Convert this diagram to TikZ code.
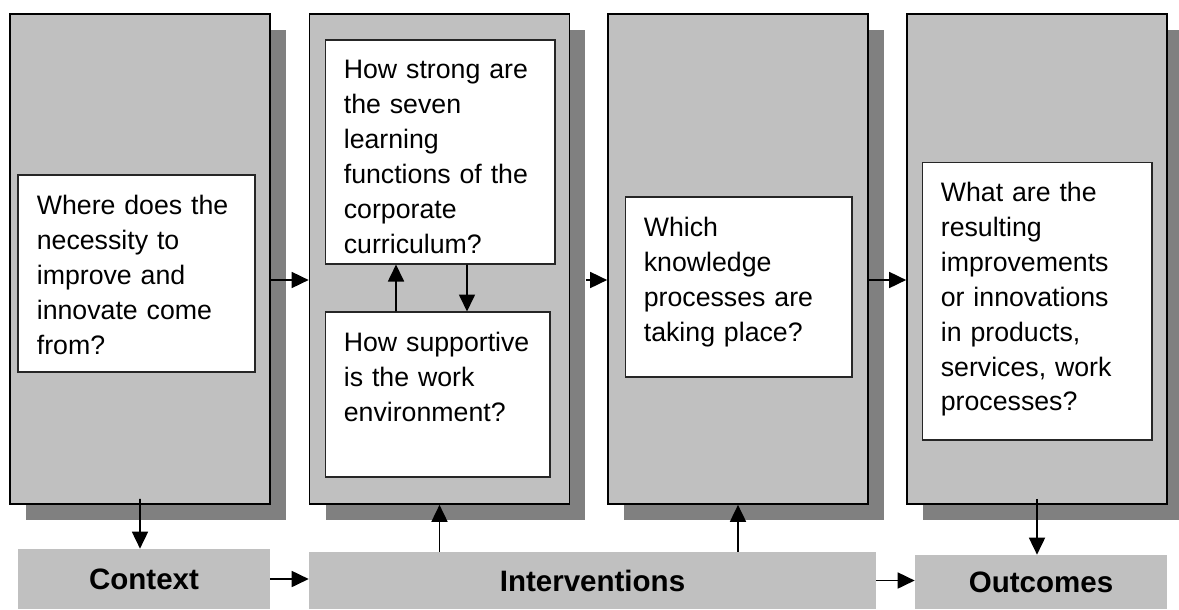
\documentclass[tikz,border=0pt]{standalone}
\usepackage{fontspec}
\setmainfont{Liberation Sans}
\usetikzlibrary{arrows.meta}
\usetikzlibrary{shadows}

\definecolor{boxgray}{RGB}{192,192,192}
\definecolor{shadegray}{RGB}{128,128,128}
\newcommand{\qfont}{\fontsize{15.2pt}{19.9pt}\selectfont}
\newcommand{\stagefont}{\fontsize{16.8pt}{20pt}\selectfont\bfseries}

\begin{document}
\begin{tikzpicture}[x=0.02cm, y=-0.02cm,
		column/.style = {draw=black, line width=1pt, fill=boxgray, inner sep=0pt,
			minimum width=5.2cm, minimum height=9.8cm,
			drop shadow={shadow xshift=0.32cm, shadow yshift=-0.32cm, fill=shadegray, opacity=1}},
		qbox/.style = {draw=black!85, line width=0.6pt, fill=white, inner sep=0pt},
		qtext/.style = {anchor=north west, inner sep=0pt, text width=4.4cm, align=left, font=\qfont},
		stage/.style = {fill=boxgray, inner sep=0pt, font=\stagefont}]
				\useasboundingbox (0,0) rectangle (1179,609);
				% the four columns
				\node[column] (c1) at (140,259) {};
				\node[column] (c2) at (439.5,259) {};
				\node[column] (c3) at (738,259) {};
				\node[column] (c4) at (1037,259) {};
				% questions
				\node[qbox, minimum width=4.74cm, minimum height=3.94cm] (q1) at (136.5,273.5) {};
				\node[qbox, minimum width=4.6cm, minimum height=4.48cm] (q2) at (440,152) {};
				\node[qbox, minimum width=4.5cm, minimum height=3.3cm] (q3) at (437.5,394.5) {};
				\node[qbox, minimum width=4.54cm, minimum height=3.6cm] (q4) at (738.5,287) {};
				\node[qbox, minimum width=4.6cm, minimum height=5.56cm] (q5) at (1037,301) {};
				\begin{scope}[every node/.style = {qtext}]
					\node (t1) at ([xshift=0.38cm, yshift=-0.4cm]q1.north west) {Where does the\\ necessity to\\ improve and\\ innovate come\\ from?};
					\node (t2) at ([xshift=0.38cm, yshift=-0.4cm]q2.north west) {How strong are\\ the seven\\ learning\\ functions of the\\ corporate\\ curriculum?};
					\node (t3) at ([xshift=0.38cm, yshift=-0.4cm]q3.north west) {How supportive\\ is the work\\ environment?};
					\node (t4) at ([xshift=0.38cm, yshift=-0.4cm]q4.north west) {Which\\ knowledge\\ processes are\\ taking place?};
					\node (t5) at ([xshift=0.38cm, yshift=-0.4cm]q5.north west) {What are the\\ resulting\\ improvements\\ or innovations\\ in products,\\ services, work\\ processes?};
				\end{scope}
				% stages along the bottom
				\node[stage, minimum width=5.04cm, minimum height=1.2cm] (ctx) at (144,579) {Context};
				\node[stage, minimum width=11.34cm, minimum height=1.14cm] (int) at (592.5,580.5) {Interventions};
				\node[stage, minimum width=5.04cm, minimum height=1.08cm] (out) at (1041,582) {Outcomes};
				\begin{scope}[>={Triangle[length=0.34cm, width=0.32cm]}, line width=1pt]
					\draw[->] ([yshift=-0.42cm]c1.east) -- ([yshift=-0.42cm]c2.west);
					\draw[->] ([xshift=0.32cm, yshift=-0.42cm]c2.east) -- ([yshift=-0.42cm]c3.west);
					\draw[->] ([yshift=-0.42cm]c3.east) -- ([yshift=-0.42cm]c4.west);
					\draw[->] ([xshift=-0.83cm]q3.north) -- ([xshift=-0.88cm]q2.south);
					\draw[->] ([xshift=0.54cm]q2.south) -- ([xshift=0.59cm]q3.north);
					\draw[->] ([yshift=0.12cm]c1.south) -- ([xshift=-0.08cm]ctx.north);
					\draw[->] (int.north -| c2.south) -- (c2.south);
					\draw[->] (int.north -| c3.south) -- (c3.south);
					\draw[->] ([yshift=0.12cm]c4.south) -- (c4.south |- out.north);
					\draw[->] (ctx.east) -- (ctx.east -| int.west);
					\draw[->] (int.east) -- (int.east -| out.west);
				\end{scope}
			\end{tikzpicture}
\end{document}
